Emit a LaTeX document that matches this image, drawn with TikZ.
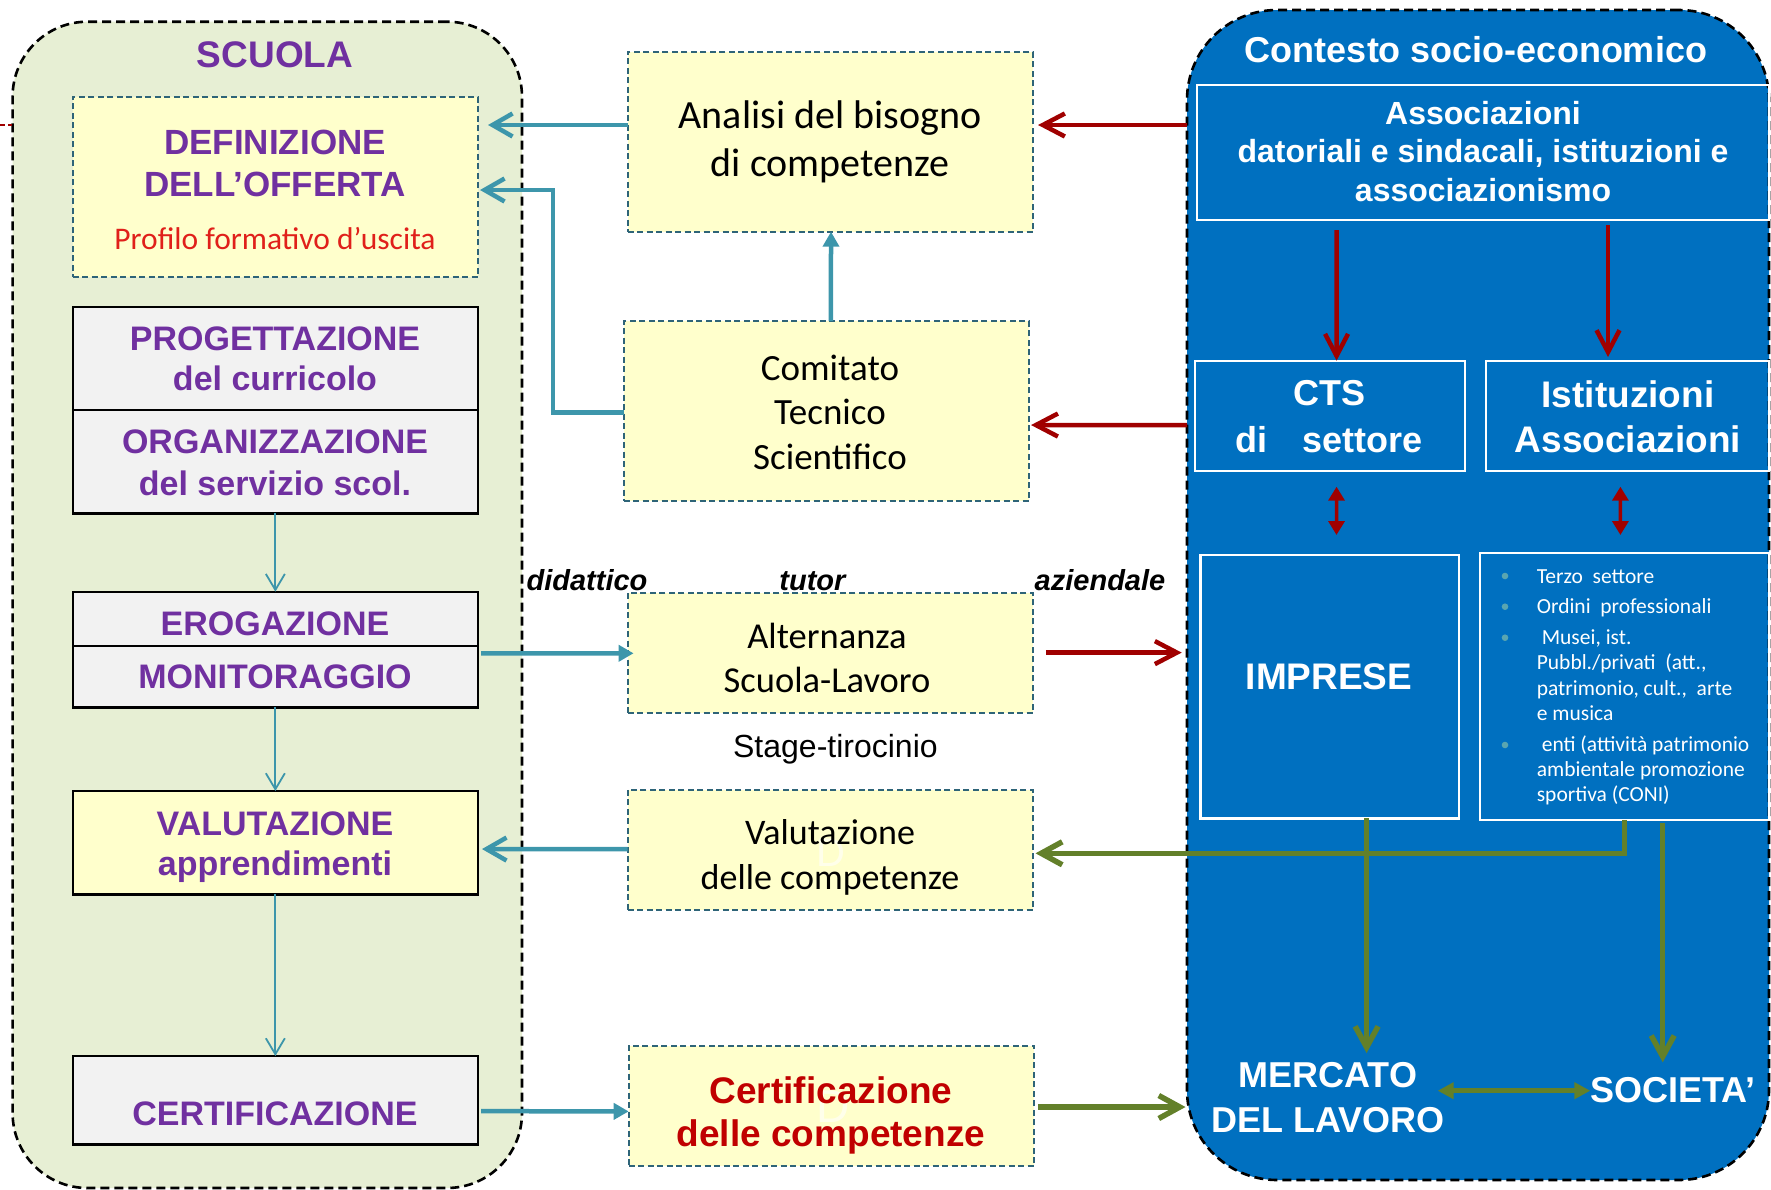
\documentclass[tikz,border=0pt]{standalone}
\usepackage{fontspec}
\setmainfont{Liberation Sans}
\newfontfamily\carl{Carlito}
\usetikzlibrary{arrows.meta,calc}
\definecolor{scufill}{RGB}{231,239,212}
\definecolor{yfill}{RGB}{255,255,204}
\definecolor{gfill}{RGB}{242,242,242}
\definecolor{purp}{RGB}{112,48,160}
\definecolor{tealc}{RGB}{61,150,171}
\definecolor{dashc}{RGB}{46,100,120}
\definecolor{dred}{RGB}{160,0,0}
\definecolor{ctxblue}{RGB}{0,112,192}
\definecolor{oliv}{RGB}{99,128,42}
\definecolor{certred}{RGB}{192,0,0}
\definecolor{profred}{RGB}{224,32,26}
\definecolor{bulc}{RGB}{90,165,176}
\begin{document}
\begin{tikzpicture}[x=1pt,y=-1pt,
  every node/.style={inner sep=0pt,outer sep=0pt},
  container/.style={draw=black,line width=2.6pt,dash pattern=on 9pt off 5pt,rounded corners=#1},
  ybox/.style={draw=dashc,fill=yfill,line width=2pt,dash pattern=on 6pt off 3.5pt,minimum width=405.4pt},
  sbox/.style={draw=black,line width=2.4pt,minimum width=405.3pt},
  wbox/.style={draw=white,line width=2.4pt},
  purtext/.style={text=purp,font=\bfseries\fontsize{34}{41}\selectfont,align=center},
  caltext/.style={text=black,align=center},
  whtext/.style={text=white,align=center},
  tutortext/.style={text=black,font=\bfseries\itshape\fontsize{29}{29}\selectfont,anchor=base},
  thinarrow/.style={draw=tealc,line width=1.8pt,-{Straight Barb[length=16pt,width=19pt]}},
  tealbarb/.style={draw=tealc,line width=4.5pt,-{Straight Barb[length=20pt,width=23pt]}},
  tealtri/.style={draw=tealc,line width=4.5pt,-{Triangle[length=15pt,width=16pt]}},
  redbarb/.style={draw=dred,line width=4.5pt,-{Straight Barb[length=22pt,width=23pt]}},
  reddouble/.style={draw=dred,line width=3.5pt,{Triangle[length=14pt,width=16pt]}-{Triangle[length=14pt,width=16pt]}},
  greenbarb/.style={draw=oliv,line width=5.5pt,-{Straight Barb[length=21pt,width=23pt]}},
  greendouble/.style={draw=oliv,line width=5.5pt,{Triangle[length=16pt,width=16pt]}-{Triangle[length=16pt,width=16pt]}}
]
\useasboundingbox (0,0) rectangle (1771,1189);

% containers
\node[container=75pt,fill=scufill,minimum width=509.4pt,minimum height=1166.3pt] (scu) at (267.3,604.85) {};
\node[container=90pt,fill=ctxblue,minimum width=582pt,minimum height=1170pt] (ctx) at (1478,595) {};

% left fragment
\coordinate (fa) at (0,125);
\coordinate (fb) at (12,125);
\draw[dred,line width=2pt,dash pattern=on 5pt off 3pt] (fa) -- (fb);

% SCUOLA column
\node[text=purp,font=\bfseries\fontsize{37}{37}\selectfont] (scuT) at (275,55) {SCUOLA};
\node[ybox,minimum height=180pt] (def) at (275.35,186.7) {};
\node[purtext,font=\bfseries\fontsize{35}{41.5}\selectfont] (defT) at (275,163.3) {DEFINIZIONE\\DELL’OFFERTA};
\node[text=profred,font=\carl\fontsize{31.5}{31.5}\selectfont] (profT) at (275,239) {Profilo formativo d’uscita};

\node[sbox,fill=gfill,minimum height=103.3pt] (prog) at (275.35,358.35) {};
\node[sbox,fill=gfill,minimum height=103.3pt] (org) at (275.35,461.65) {};
\node[purtext,font=\bfseries\fontsize{34}{40.4}\selectfont] (progT) at (275,358.5) {PROGETTAZIONE\\del curricolo};
\node[purtext,font=\bfseries\fontsize{34}{41.6}\selectfont] (orgT) at (275,462.5) {ORGANIZZAZIONE\\del servizio scol.};

\node[sbox,fill=gfill,minimum height=54.3pt] (ero) at (275.35,618.85) {};
\node[sbox,fill=gfill,minimum height=61.3pt] (mon) at (275.35,676.65) {};
\node[purtext] (eroT) at (275,623.3) {EROGAZIONE};
\node[purtext] (monT) at (275,676.7) {MONITORAGGIO};

\node[sbox,fill=yfill,minimum height=103.3pt] (va) at (275.35,842.65) {};
\node[purtext,font=\bfseries\fontsize{34}{40.5}\selectfont] (vaT) at (275,847.2) {VALUTAZIONE\\apprendimenti};

\node[sbox,fill=gfill,minimum height=88.3pt] (CE) at (275.35,1100.15) {};
\node[purtext] (ceT) at (275,1114) {CERTIFICAZIONE};

% middle column
\node[ybox,minimum height=180pt] (ana) at (830.3,141.7) {};
\node[caltext,font=\carl\fontsize{40}{48}\selectfont] (anaT) at (830,141.6) {Analisi del bisogno\\di competenze};

\node[ybox,minimum height=179.7pt] (com) at (826.35,410.85) {};
\node[caltext,font=\carl\fontsize{37}{44.6}\selectfont] (comT) at (830,412) {Comitato\\Tecnico\\Scientifico};

\node[tutortext] (didT) at (587,590.5) {didattico};
\node[tutortext] (tutT) at (812.4,590.5) {tutor};
\node[tutortext] (azT) at (1100,590.5) {aziendale};

\node[ybox,minimum height=120pt] (alt) at (830.3,653) {};
\node[caltext,font=\carl\fontsize{36.5}{43.4}\selectfont] (altT) at (827,658) {Alternanza\\Scuola-Lavoro};

\node[text=black,font=\fontsize{32}{32}\selectfont] (stT) at (835.4,749) {Stage-tirocinio};

\node[ybox,minimum height=120pt] (vc) at (830.3,849.6) {};
\node[text=white,opacity=0.6,font=\fontsize{40}{40}\selectfont] (gd1) at (831,852.5) {D};
\node[caltext,font=\carl\fontsize{36}{44.3}\selectfont] (vcT) at (830,857.5) {Valutazione\\delle competenze};

\node[ybox,minimum width=405.7pt,minimum height=120pt] (cert) at (831.55,1105.8) {};
\node[text=white,opacity=0.6,font=\fontsize{46}{46}\selectfont] (gd2) at (833,1107) {D};
\node[text=certred,font=\bfseries\fontsize{37}{43.3}\selectfont,align=center] (certT) at (831,1115.7) {Certificazione\\delle competenze};

% right column
\node[text=white,font=\bfseries\fontsize{36}{36}\selectfont] (ctxT) at (1476,50) {Contesto socio-economico};
\node[wbox,minimum width=572.2pt,minimum height=135pt] (asc) at (1482.9,152.5) {};
\node[whtext,font=\bfseries\fontsize{32}{38.5}\selectfont] (ascT) at (1483,151.5) {Associazioni\\datoriali e sindacali, istituzioni e\\associazionismo};

\node[wbox,minimum width=269.7pt,minimum height=110.3pt] (cts) at (1329.85,415.85) {};
\node[whtext,font=\bfseries\fontsize{36}{47}\selectfont] (ctsT) at (1329,416.5) {CTS\\di\hspace{25pt} settore};
\node[wbox,minimum width=283.3pt,minimum height=110.3pt] (ist) at (1627.35,415.85) {};
\node[whtext,font=\bfseries\fontsize{37}{45}\selectfont] (istT) at (1628,416.5) {Istituzioni\\Associazioni};

\node[wbox,minimum width=258.4pt,minimum height=263.3pt] (imp) at (1329.8,686.65) {};
\node[whtext,font=\bfseries\fontsize{37}{37}\selectfont] (impT) at (1329,676.7) {IMPRESE};

\node[wbox,minimum width=289pt,minimum height=267.3pt] (lst) at (1624.5,686.35) {};
\fill[bulc] (1505,576) circle[radius=3.3pt];
\fill[bulc] (1505,606.7) circle[radius=3.3pt];
\fill[bulc] (1505,637.7) circle[radius=3.3pt];
\fill[bulc] (1505,745) circle[radius=3.3pt];
\node[text=white,font=\carl\fontsize{21.5}{25.3}\selectfont,align=left,anchor=north west] (lstT) at (1536.8,569.2)
 {Terzo\ \ settore\\[5.4pt]
  Ordini\ \ professionali\\[5.4pt]
  \hspace*{5pt}Musei, ist.\\
  Pubbl./privati\ \ (att.,\\
  patrimonio, cult.,\ \ arte\\
  e musica\\[5.4pt]
  \hspace*{5pt}enti (attività patrimonio\\
  ambientale promozione\\
  sportiva (CONI)};

\node[whtext,font=\bfseries\fontsize{36}{45}\selectfont] (merT) at (1328,1097.5) {MERCATO\\DEL LAVORO};
\node[whtext,font=\bfseries\fontsize{36}{36}\selectfont] (socT) at (1673,1090) {SOCIETA’};

% connectors - teal
\draw[tealbarb] ($(ana.west)+(0,-16.7)$) -- ($(def.east)+(10,-61.7)$);
\draw[tealbarb] ($(com.west)+(0,1.8)$) -- ++(-70.9,0) |- ($(def.east)+(2,3.3)$);
\draw[tealtri] ($(com.north)+(4.6,0)$) -- ($(ana.south)+(0.7,0)$);
\draw[tealtri] ($(mon.east)+(3,-23.35)$) -- ($(alt.west)+(6,0.3)$);
\draw[tealbarb] ($(vc.west)+(0,-0.6)$) -- ($(va.east)+(4,6.4)$);
\draw[tealtri] ($(CE.east)+(3,11)$) -- ($(cert.west)+(0,5.6)$);

% thin arrows in SCUOLA
\draw[thinarrow] (org.south) -- (ero.north);
\draw[thinarrow] (mon.south) -- (va.north);
\draw[thinarrow] (va.south) -- (CE.north);

% connectors - red
\draw[redbarb] ($(ctx.west)+(0,-470)$) -- ($(ana.east)+(5,-16.7)$);
\draw[redbarb] ($(ctx.west)+(0,-170)$) -- ($(com.east)+(2,14.2)$);
\draw[redbarb] ($(asc.south)+(-146.4,10)$) -- ($(cts.north)+(6.7,0)$);
\draw[redbarb] ($(asc.south)+(125.1,5)$) -- ($(ist.north)+(-19.35,-3.7)$);
\draw[reddouble] ($(cts.south)+(6.7,15.7)$) -- ($(imp.north)+(6.7,-20)$);
\draw[reddouble] ($(ist.south)+(-6.95,15.7)$) -- ($(lst.north)+(-4.1,-17.7)$);
\draw[redbarb] ($(alt.east)+(12.8,-0.4)$) -- ($(ctx.west)+(-5.3,57.6)$);

% connectors - green
\draw[greenbarb] ($(imp.south)+(36.8,0)$) -- ($(imp.south)+(36.8,234.7)$);
\draw[greenbarb] (lst.south) |- ($(vc.east)+(2.5,3.7)$);
\draw[greenbarb] ($(lst.south)+(38.2,3)$) -- ($(socT.north)+(-10.3,-15)$);
\draw[greendouble] ($(merT.east)+(-7,-6.8)$) -- ($(socT.west)+(0,0.7)$);
\draw[greenbarb] ($(cert.east)+(3.6,1.2)$) -- ($(ctx.west)+(-1.5,512)$);
\end{tikzpicture}
\end{document}
